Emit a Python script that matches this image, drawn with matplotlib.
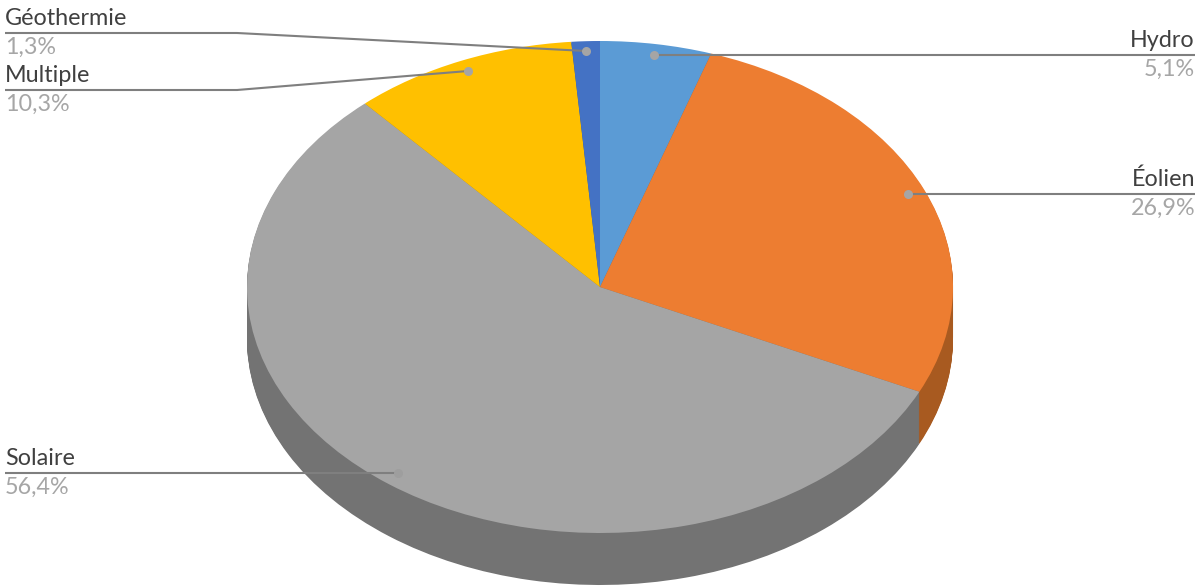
import matplotlib
matplotlib.use("Agg")
import matplotlib.pyplot as plt

categories = ["Hydro", "Éolien", "Solaire", "Multiple", "Géothermie"]
shares = [5.1, 26.9, 56.4, 10.3, 1.3]
share_labels = ["5,1%", "26,9%", "56,4%", "10,3%", "1,3%"]
top_colors = ["#5B9BD5", "#ED7D31", "#A5A5A5", "#FFC000", "#4472C4"]
side_colors = ["#3F6F9C", "#A85A20", "#737373", "#B58900", "#2F5290"]

W, H = 1200, 587
CX, CY, RX, RY, DEPTH = 600, 287, 353, 246, 52

plt.rcParams["font.family"] = ["Lato", "DejaVu Sans"]
fig = plt.figure(figsize=(W / 100, H / 100), dpi=100, facecolor="white")

# Pie axes: one data unit is one radius, squashed by the axes limits
ax = fig.add_axes([0, 0, 1, 1])
for d in range(DEPTH, 0, -1):
    ax.pie(shares, colors=side_colors, startangle=90, counterclock=False,
           center=(0, -d / RY), radius=1, wedgeprops={"linewidth": 0})
ax.pie(shares, colors=top_colors, startangle=90, counterclock=False,
       center=(0, 0), radius=1, wedgeprops={"linewidth": 0})
ax.set_aspect("auto")
ax.set_xlim(-CX / RX, (W - CX) / RX)
ax.set_ylim((CY - H) / RY, CY / RY)

# Overlay in pixel coordinates for the leader lines and labels
ov = fig.add_axes([0, 0, 1, 1], facecolor="none")
ov.set_xlim(0, W)
ov.set_ylim(H, 0)
ov.axis("off")

LINE = "#7F7F7F"
leaders = {
    "Hydro": ([1195, 654], [55, 55]),
    "Éolien": ([1195, 908], [194, 194]),
    "Solaire": ([5, 398], [473, 473]),
    "Multiple": ([5, 237, 468], [90, 90, 71]),
    "Géothermie": ([5, 237, 586], [33, 33, 51]),
}
label_pos = {
    "Hydro": (1195, "right", 55),
    "Éolien": (1195, "right", 194),
    "Solaire": (5, "left", 473),
    "Multiple": (5, "left", 90),
    "Géothermie": (5, "left", 33),
}
for name, pct in zip(categories, share_labels):
    xs, ys = leaders[name]
    ov.plot(xs, ys, color=LINE, lw=1.5, solid_capstyle="butt", zorder=3)
    dot = "#9E9E9E" if name == "Solaire" else "#A5A5A5"
    ov.plot(xs[-1], ys[-1], "o", ms=6.5, mfc=dot, mec="none", zorder=4)
    x, ha, y = label_pos[name]
    ov.text(x, y - 4, name, ha=ha, va="bottom", fontsize=16.8, color="#404040")
    ov.text(x, y + 4, pct, ha=ha, va="top", fontsize=16.8, color="#A6A6A6")

fig.savefig("out.png", dpi=100, facecolor="white")
